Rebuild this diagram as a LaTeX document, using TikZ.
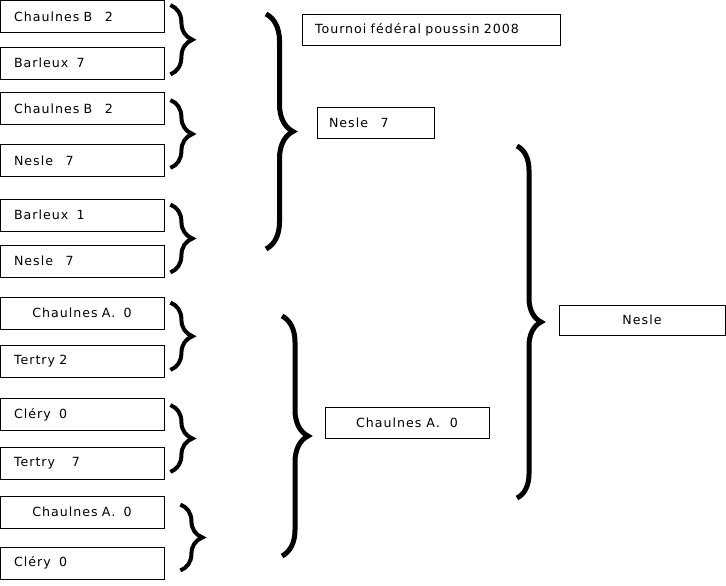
\documentclass[tikz,border=0pt]{standalone}
\usepackage{fontspec}
\setmainfont[LetterSpace=8]{DejaVu Sans}
\usetikzlibrary{decorations.pathreplacing}

\begin{document}
\begin{tikzpicture}[x=1pt, y=-1pt, font=\fontsize{12.6}{14}\selectfont,
  team/.style={rectangle, draw, line width=0.8pt, minimum height=32pt, inner xsep=14pt, text width=136pt, align=left},
  teamc/.style={team, align=center},
  result/.style={rectangle, draw, line width=0.8pt, minimum height=31pt},
  bracket/.style={decorate, decoration={brace, amplitude=#1}, line width=4pt},
  bigbracket/.style={bracket=#1, line width=5pt}]

  \useasboundingbox (0,0) rectangle (726,586);

  % first round, left column
  \node[team] (m1a) at (82,16.5) {Chaulnes B~~~2};
  \node[team, below of=m1a, node distance=46.5pt] (m1b) {Barleux~~7};
  \node[team, below of=m1b, node distance=45.5pt] (m2a) {Chaulnes B~~~2};
  \node[team, below of=m2a, node distance=52pt] (m2b) {Nesle~~~7};
  \node[team, below of=m2b, node distance=54.5pt] (m3a) {Barleux~~1};
  \node[team, below of=m3a, node distance=46pt] (m3b) {Nesle~~~7};
  \node[teamc, below of=m3b, node distance=52pt] (m4a) {Chaulnes A.~~0};
  \node[team, below of=m4a, node distance=48.5pt] (m4b) {Tertry 2};
  \node[team, below of=m4b, node distance=53pt] (m5a) {Cléry~~0};
  \node[team, below of=m5a, node distance=49pt] (m5b) {Tertry~~~~7};
  \node[teamc, below of=m5b, node distance=48.5pt] (m6a) {Chaulnes A.~~0};
  \node[team, below of=m6a, node distance=51pt] (m6b) {Cléry~~0};

  % results
  \node[result, minimum width=258pt, text width=232pt, inner xsep=13pt, align=left] (title) at (431,30) {Tournoi fédéral poussin 2008};
  \node[result, minimum width=117pt, text width=93pt, inner xsep=12pt, align=left] (semi) at (375.5,123) {Nesle~~~7};
  \node[result, minimum width=164pt] (semib) at (407,422.5) {Chaulnes A.~~0};
  \node[result, minimum width=166pt, minimum height=30pt] (final) at (642,320) {Nesle};

  \coordinate (g1top) at (266,14);
  \coordinate (g1bot) at (266,249);
  \coordinate (g2top) at (282,316);
  \coordinate (g2bot) at (282,556);
  \coordinate (g3top) at (517,146);
  \coordinate (g3bot) at (517,498);

  \draw[bracket=22] ([xshift=6pt, yshift=-5pt]m1a.north east) -- ([xshift=6pt, yshift=5pt]m1b.south east);
  \draw[bracket=22] ([xshift=6pt, yshift=-8pt]m2a.north east) -- ([xshift=6pt, yshift=9pt]m2b.south east);
  \draw[bracket=22] ([xshift=6pt, yshift=-6pt]m3a.north east) -- ([xshift=6pt, yshift=5pt]m3b.south east);
  \draw[bracket=22] ([xshift=6pt, yshift=-6pt]m4a.north east) -- ([xshift=6pt, yshift=8pt]m4b.south east);
  \draw[bracket=22] ([xshift=6pt, yshift=-7pt]m5a.north east) -- ([xshift=6pt, yshift=8pt]m5b.south east);
  \draw[bracket=22] ([xshift=16pt, yshift=-9pt]m6a.north east) -- ([xshift=16pt, yshift=9pt]m6b.south east);

  \draw[bigbracket=27] (g1top) -- (g1bot);
  \draw[bigbracket=26] (g2top) -- (g2bot);
  \draw[bigbracket=24] (g3top) -- (g3bot);
\end{tikzpicture}
\end{document}
